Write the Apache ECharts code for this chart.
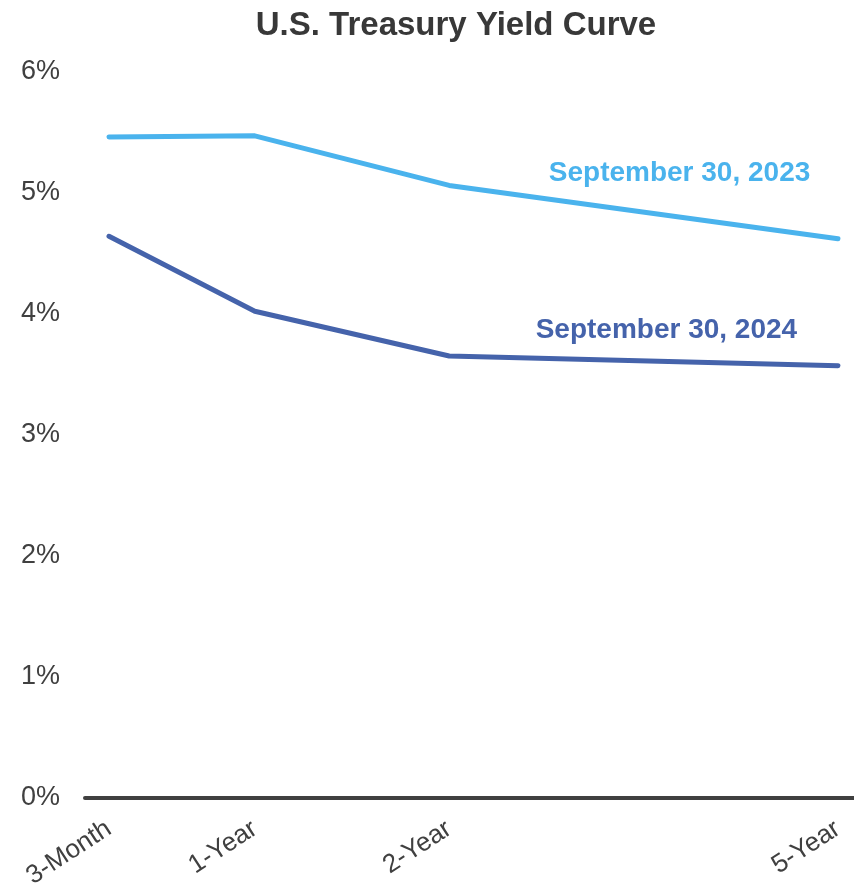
<!DOCTYPE html>
<html>
<head>
<meta charset="utf-8">
<script src="https://cdn.jsdelivr.net/npm/echarts@6/dist/echarts.min.js"></script>
<style>
  html, body { margin: 0; padding: 0; background: #ffffff; }
  #chart { width: 854px; height: 890px; }
</style>
</head>
<body>
<div id="chart"></div>
<script>
// Maturities shown on the curve and their spacing along the horizontal scale
const tenors = ['3-Month', '1-Year', '2-Year', '5-Year'];
const tenorPos = [0, 3, 7, 15];

// Treasury yields (%) at each maturity
const yields2023 = [5.46, 5.47, 5.06, 4.62];
const yields2024 = [4.64, 4.02, 3.65, 3.57];

const seriesNames = ['September 30, 2023', 'September 30, 2024'];
const yTicks = [0, 1, 2, 3, 4, 5, 6];

const colLight = '#4ab3ed';
const colDark = '#4563ab';
const textCol = '#404040';
const fontFam = '"Liberation Sans", Arial, sans-serif';

function pairs(values) {
  return values.map((v, i) => [tenorPos[i], v]);
}

const chart = echarts.init(document.getElementById('chart'), null, { renderer: 'canvas' });

chart.setOption({
  animation: false,
  backgroundColor: '#ffffff',
  title: {
    text: 'U.S. Treasury Yield Curve',
    left: 451,
    textAlign: 'center',
    top: 4,
    textStyle: { fontFamily: fontFam, fontSize: 33, fontWeight: 'bold', color: '#383838' }
  },
  grid: {
    left: 85, right: 0, top: 71.7, bottom: 92.3,
    containLabel: false,
    outerBoundsMode: 'none'
  },
  xAxis: {
    type: 'value',
    min: -0.494,
    max: 15.33,
    axisLine: { show: true, onZero: true, lineStyle: { color: textCol, width: 4 } },
    axisTick: { show: false },
    splitLine: { show: false },
    axisLabel: {
      customValues: tenorPos,
      rotate: 33,
      margin: 29,
      fontFamily: fontFam,
      fontSize: 26,
      color: textCol,
      formatter: (v) => {
        const i = tenorPos.indexOf(v);
        return i >= 0 ? tenors[i] : '';
      }
    }
  },
  yAxis: {
    type: 'value',
    min: yTicks[0],
    max: yTicks[yTicks.length - 1],
    interval: 1,
    axisLine: { show: false },
    axisTick: { show: false },
    splitLine: { show: false },
    axisLabel: {
      margin: 25,
      padding: [4, 0, 0, 0],
      fontFamily: fontFam,
      fontSize: 27,
      color: textCol,
      formatter: '{value}%'
    }
  },
  series: [
    {
      name: seriesNames[0],
      type: 'line',
      data: pairs(yields2023),
      symbol: 'none',
      lineStyle: { color: colLight, width: 5, cap: 'round', join: 'round' },
      markPoint: {
        symbol: 'circle',
        symbolSize: 0,
        itemStyle: { color: 'transparent' },
        label: {
          show: true, position: 'inside',
          formatter: seriesNames[0],
          fontFamily: fontFam, fontSize: 28, fontWeight: 'bold', color: colLight
        },
        data: [{ coord: [11.74, 5.16] }]
      }
    },
    {
      name: seriesNames[1],
      type: 'line',
      data: pairs(yields2024),
      symbol: 'none',
      lineStyle: { color: colDark, width: 5, cap: 'round', join: 'round' },
      markPoint: {
        symbol: 'circle',
        symbolSize: 0,
        itemStyle: { color: 'transparent' },
        label: {
          show: true, position: 'inside',
          formatter: seriesNames[1],
          fontFamily: fontFam, fontSize: 28, fontWeight: 'bold', color: colDark
        },
        data: [{ coord: [11.47, 3.865] }]
      }
    }
  ]
});
</script>
</body>
</html>
